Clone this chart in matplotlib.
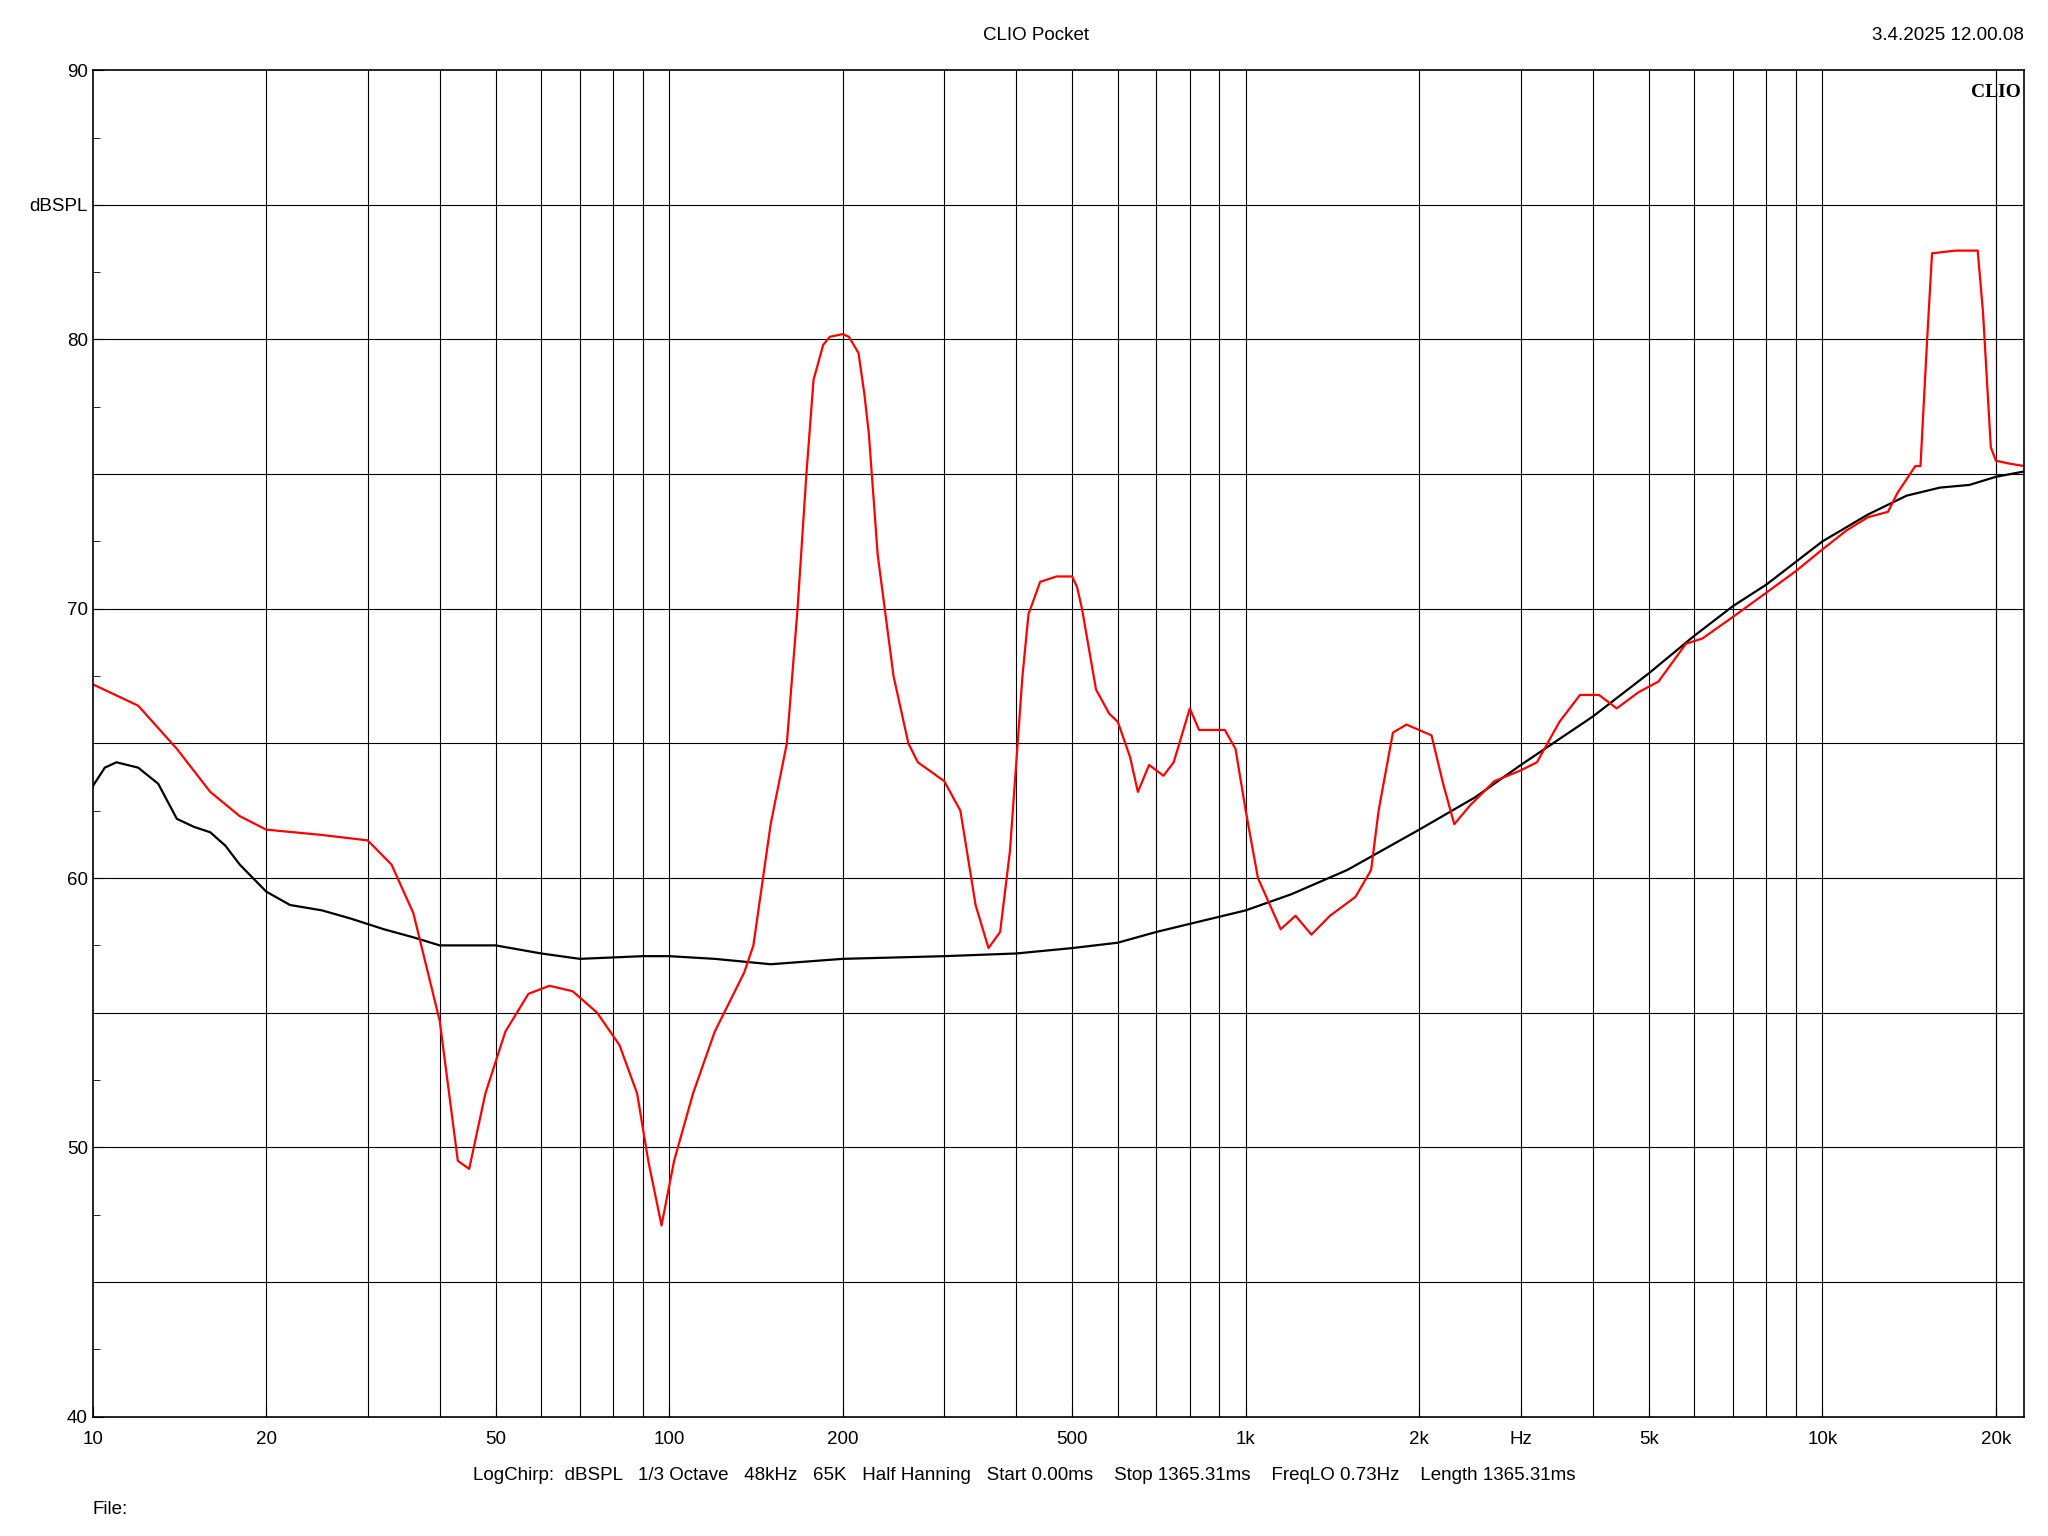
import matplotlib
matplotlib.use("Agg")
import matplotlib.pyplot as plt
from matplotlib.ticker import FixedLocator, NullFormatter

red_f = [10,12,14,16,18,20,25,30,33,36,40,43,45,48,52,57,62,68,75,82,88,92,97,102,110,120,135,140,150,160,167,173,178,185,190,200,205,213,218,222,230,245,260,270,300,320,340,358,375,390,410,420,440,470,500,510,520,550,580,600,630,650,680,720,750,800,830,880,920,960,1000,1050,1150,1220,1300,1400,1550,1650,1700,1800,1900,2100,2200,2300,2450,2700,3000,3200,3500,3800,4100,4400,4800,5200,5800,6200,7000,8000,9000,10000,11000,12000,13000,13500,14500,14800,15200,15500,17000,18600,19000,19600,20000,21000,22400]
red_db = [67.2,66.4,64.8,63.2,62.3,61.8,61.6,61.4,60.5,58.7,54.7,49.5,49.2,52,54.3,55.7,56.0,55.8,55,53.8,52,49.5,47.1,49.5,52,54.3,56.5,57.5,62,65,70,75,78.5,79.8,80.1,80.2,80.1,79.5,78,76.5,72,67.5,65,64.3,63.6,62.5,59,57.4,58,61,67.5,69.8,71,71.2,71.2,70.8,70,67,66.1,65.8,64.5,63.2,64.2,63.8,64.3,66.3,65.5,65.5,65.5,64.8,62.5,60,58.1,58.6,57.9,58.6,59.3,60.3,62.5,65.4,65.7,65.3,63.5,62,62.7,63.6,64,64.3,65.8,66.8,66.8,66.3,66.9,67.3,68.7,68.9,69.7,70.6,71.4,72.2,72.9,73.4,73.6,74.3,75.3,75.3,80,83.2,83.3,83.3,81,76,75.5,75.4,75.3]
blk_f = [10,10.5,11,12,13,14,15,16,17,18,20,22,25,28,32,36,40,50,60,70,90,100,120,150,200,300,400,500,600,700,800,1000,1200,1500,2000,2500,3000,4000,5000,6000,7000,8000,10000,12000,14000,16000,18000,20000,22400]
blk_db = [63.4,64.1,64.3,64.1,63.5,62.2,61.9,61.7,61.2,60.5,59.5,59,58.8,58.5,58.1,57.8,57.5,57.5,57.2,57,57.1,57.1,57,56.8,57.0,57.1,57.2,57.4,57.6,58,58.3,58.8,59.4,60.3,61.8,63,64.2,66,67.6,69,70.1,70.9,72.5,73.5,74.2,74.5,74.6,74.9,75.1]
x_tick_vals = [10,20,50,100,200,500,1000,2000,3000,5000,10000,20000]
x_tick_labels = ["10","20","50","100","200","500","1k","2k","Hz","5k","10k","20k"]
y_tick_vals = [40,50,60,70,80,85,90]
y_tick_labels = ["40","50","60","70","80","dBSPL","90"]

plt.rcParams['font.family'] = ['Liberation Sans', 'DejaVu Sans']
fig = plt.figure(figsize=(20.48,15.36), dpi=100)
ax = fig.add_axes([0.0452,0.0777,0.9432,0.8766])
ax.set_xscale('log')
ax.set_xlim(10,22400)
ax.set_ylim(40,90)
grid_x = [m*10**e for e in range(1,5) for m in range(1,10)] + [20000]
for g in grid_x:
    if 10 < g < 22400:
        ax.axvline(g, color='black', lw=0.8)
for g in range(45,90,5):
    ax.axhline(g, color='black', lw=0.8)
ax.plot(blk_f, blk_db, color='black', lw=1.6)
ax.plot(red_f, red_db, color='red', lw=1.6)
ax.xaxis.set_major_locator(FixedLocator(x_tick_vals))
ax.set_xticklabels(x_tick_labels, fontsize=13.5)
ax.xaxis.set_minor_formatter(NullFormatter())
ax.xaxis.set_minor_locator(FixedLocator([]))
ax.set_yticks(y_tick_vals)
ax.set_yticklabels(y_tick_labels, fontsize=13.5)
ax.yaxis.set_minor_locator(FixedLocator([x*2.5 for x in range(16,36)]))
ax.tick_params(axis='both', which='both', direction='in', length=8)
ax.tick_params(axis='y', which='minor', length=5)
ax.tick_params(axis='x', pad=10)
for s in ax.spines.values():
    s.set_linewidth(1.2)
fig.text(0.506,0.977,"CLIO Pocket",ha='center',va='center',fontsize=13.5)
fig.text(0.988,0.977,"3.4.2025 12.00.08",ha='right',va='center',fontsize=13.5)
ax.text(0.998,0.99,"CLIO",transform=ax.transAxes,ha='right',va='top',fontsize=14,fontweight='bold',family='Liberation Serif')
fig.text(0.5,0.0397,"LogChirp:  dBSPL   1/3 Octave   48kHz   65K   Half Hanning   Start 0.00ms    Stop 1365.31ms    FreqLO 0.73Hz    Length 1365.31ms",ha='center',va='center',fontsize=13.5)
fig.text(0.045,0.017,"File:",ha='left',va='center',fontsize=13.5)
fig.savefig("out.png", dpi=100, facecolor='white')
